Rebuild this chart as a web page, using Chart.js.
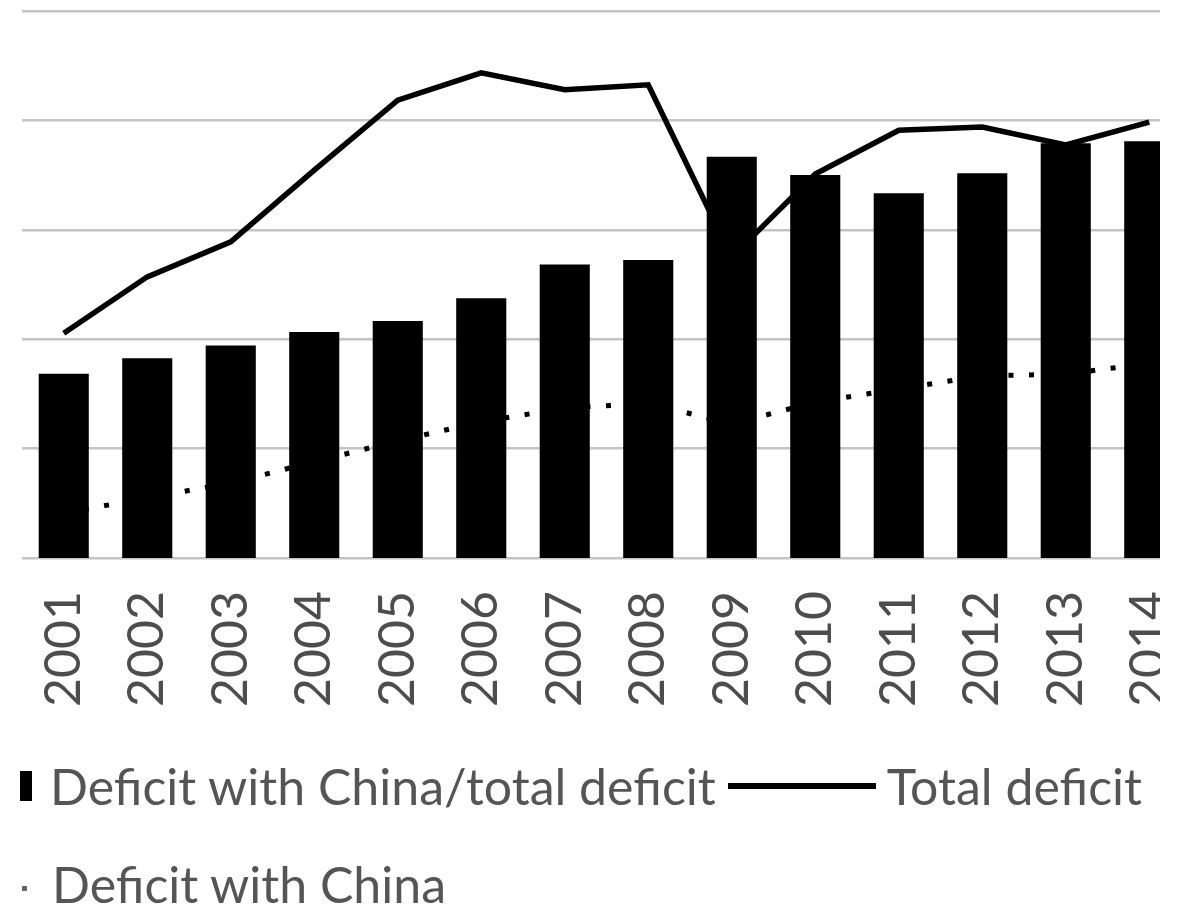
<!DOCTYPE html>
<html>
<head>
<meta charset="utf-8">
<script src="https://cdn.jsdelivr.net/npm/chart.js@4/dist/chart.umd.min.js"></script>
<style>
    html, body {
        margin: 0;
        padding: 0;
        background: #fff;
    }
    #page {
        position: relative;
        width: 1177px;
        height: 906px;
        overflow: hidden;
        filter: blur(0.6px);
    }
    #plot {
        position: absolute;
        left: 0;
        top: 0;
        width: 1160px;
        height: 740px;
        overflow: hidden;
    }
    #legend {
        position: absolute;
        left: 20px;
        top: 756px;
        width: 1150px;
        display: flex;
        flex-wrap: wrap;
        row-gap: 38px;
        font-family: Lato, sans-serif;
        font-size: 50px;
        line-height: 60px;
        color: #555;
    }
    .item {
        display: flex;
        align-items: center;
        height: 60px;
        margin-right: 12px;
        white-space: nowrap;
    }
    .mark-bar {
        width: 12px;
        height: 30px;
        background: #000;
        margin-right: 18px;
    }
    .mark-line {
        width: 148px;
        height: 6px;
        background: #000;
        margin-right: 11px;
    }
    .mark-dot {
        width: 5px;
        height: 5px;
        background: #666;
        margin: 8px 25px 0 2px;
    }
</style>
</head>
<body>
<div id="page">
    <div id="plot">
        <canvas id="chart" width="1200" height="720"></canvas>
    </div>
    <div id="legend"></div>
</div>

<script>
const years = ["2001", "2002", "2003", "2004", "2005", "2006", "2007",
               "2008", "2009", "2010", "2011", "2012", "2013", "2014"];

// share of the total deficit that is with China, %
const chinaShare = [20.2, 21.9, 23.3, 24.8, 26.0, 28.5, 32.2,
                    32.7, 44.0, 42.0, 40.0, 42.2, 45.5, 45.7];

// billions of dollars
const totalDeficit = [411, 514, 578, 709, 837, 887, 856,
                      865, 550, 702, 782, 788, 755, 797];
const chinaDeficit = [82, 110, 137, 176, 214, 249, 274,
                      283, 245, 285, 309, 333, 336, 356];

const textColor = "#4d4d4d";
const gridColor = "#c4c4c4";

let chart = new Chart(document.getElementById("chart"), {
    type: "bar",
    data: {
        labels: years,
        datasets: [{
            label: "Deficit with China/total deficit",
            data: chinaShare,
            backgroundColor: "#000",
            yAxisID: "y1",
            barPercentage: 0.6,
            categoryPercentage: 1,
            order: 0,
            legendMark: "bar"
        }, {
            type: "line",
            label: "Total deficit",
            data: totalDeficit,
            borderColor: "#000",
            borderWidth: 5.5,
            pointRadius: 0,
            tension: 0,
            yAxisID: "y",
            order: 1,
            legendMark: "line"
        }, {
            type: "line",
            label: "Deficit with China",
            data: chinaDeficit,
            borderColor: "#000",
            borderWidth: 5,
            borderDash: [5, 15.5],
            pointRadius: 0,
            tension: 0,
            yAxisID: "y",
            order: 2,
            legendMark: "dot"
        }]
    },
    options: {
        responsive: false,
        animation: false,
        devicePixelRatio: 1,
        layout: {
            padding: { left: 22, right: 9, top: 11, bottom: 0 }
        },
        plugins: {
            legend: { display: false },
            tooltip: { enabled: false }
        },
        scales: {
            x: {
                grid: { display: false },
                border: { display: false },
                ticks: {
                    autoSkip: false,
                    minRotation: 90,
                    maxRotation: 90,
                    padding: 25,
                    color: textColor,
                    font: { family: "Lato", size: 50 }
                },
                afterFit: s => {
                    s.height = 162;
                    // the last labels run past the right edge, as they should
                    s.paddingLeft = 0;
                    s.paddingRight = 0;
                }
            },
            y: {
                min: 0,
                max: 1000,
                border: { display: false },
                grid: {
                    color: gridColor,
                    lineWidth: 2.5,
                    drawTicks: false
                },
                ticks: { display: false, stepSize: 200 },
                afterFit: s => { s.width = 0; }
            },
            y1: {
                display: false,
                position: "right",
                min: 0,
                max: 60
            }
        }
    }
});

// legend below the plot, built from the datasets
const legendDiv = document.getElementById("legend");
chart.data.datasets.forEach(ds => {
    const item = document.createElement("div");
    item.className = "item";
    const mark = document.createElement("span");
    mark.className = "mark-" + ds.legendMark;
    const text = document.createElement("span");
    text.innerText = ds.label;
    item.appendChild(mark);
    item.appendChild(text);
    legendDiv.appendChild(item);
});
</script>
</body>
</html>
